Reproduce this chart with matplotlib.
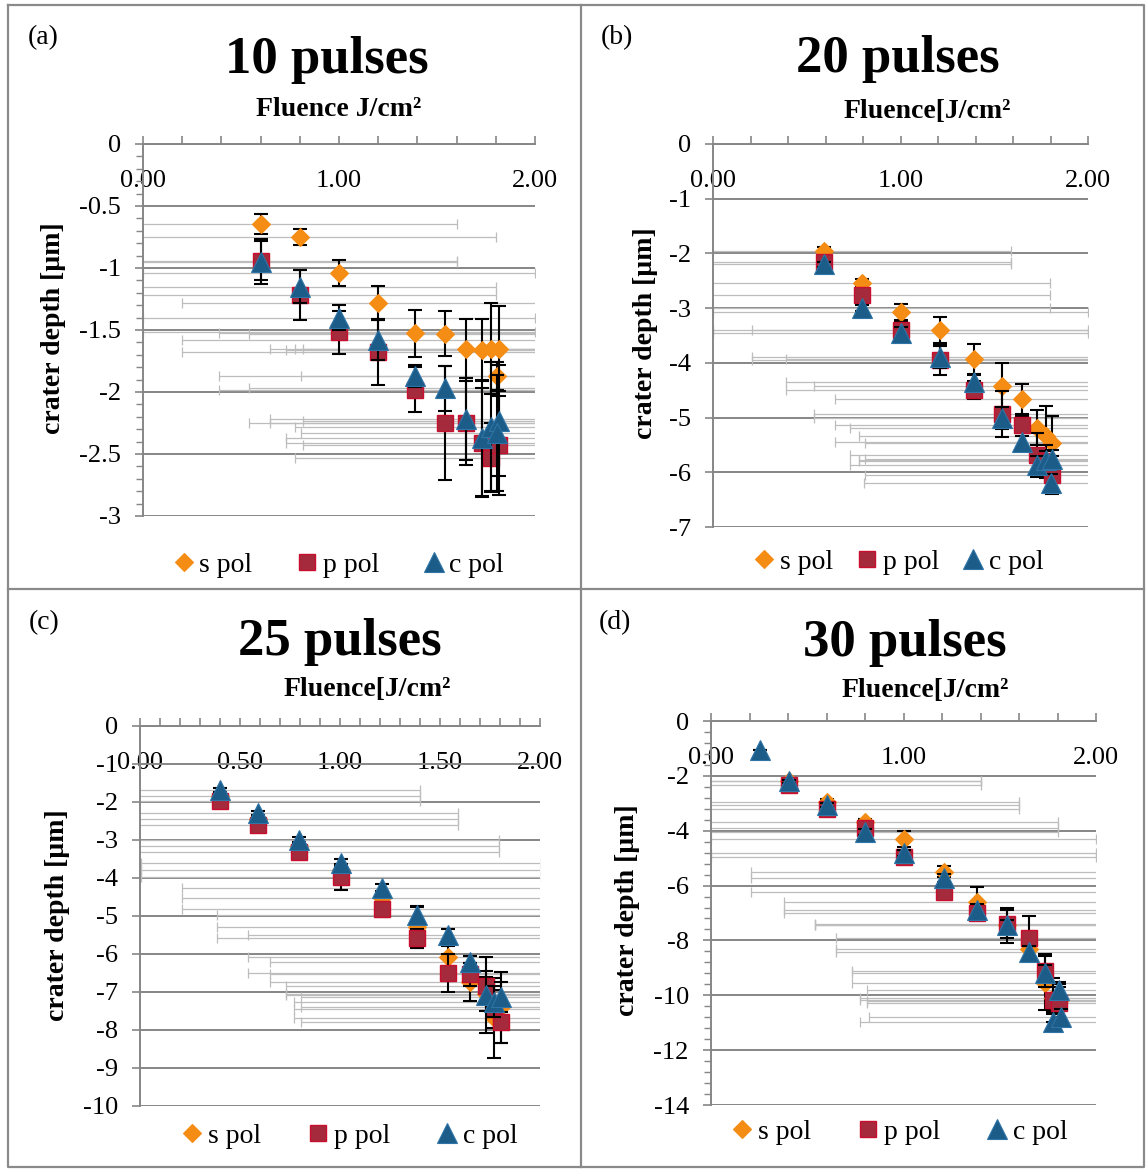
import matplotlib
matplotlib.use("Agg")
import matplotlib.pyplot as plt
from matplotlib.ticker import MultipleLocator, FormatStrFormatter, FuncFormatter
from matplotlib.lines import Line2D

W, H = 1146, 1169
plt.rcParams['font.family'] = ['Liberation Serif', 'DejaVu Serif']
plt.rcParams['axes.unicode_minus'] = False

# ---------------- data: (a) 10 pulses ----------------
flu_a = [0.60, 0.80, 1.00, 1.20, 1.39, 1.54, 1.65, 1.73, 1.775, 1.815, 1.805]
s_a = [-0.645, -0.75, -1.04, -1.28, -1.525, -1.53, -1.65, -1.66, -1.65, -1.65, -1.87]
s_a_err = [0.08, 0.065, 0.105, 0.135, 0.19, 0.18, 0.24, 0.25, 0.37, 0.34, 0.11]
p_a = [-0.94, -1.22, -1.52, -1.68, -1.98, -2.25, -2.25, -2.41, -2.53, -2.43]
p_a_err = [0.16, 0.20, 0.17, 0.26, 0.18, 0.46, 0.34, 0.44, 0.28, 0.40]
c_a = [-0.95, -1.15, -1.40, -1.58, -1.87, -1.97, -2.22, -2.37, -2.28, -2.23, -2.33]
c_a_err = [0.18, 0.13, 0.10, 0.16, 0.09, 0.18, 0.33, 0.47, 0.52, 0.45, 0.47]

# ---------------- data: (b) 20 pulses ----------------
flu_b = [0.59, 0.795, 1.00, 1.21, 1.39, 1.54, 1.65, 1.73, 1.776, 1.81, 1.805]
s_b = [-1.95, -2.54, -3.07, -3.40, -3.93, -4.43, -4.66, -5.19, -5.33, -5.46]
s_b_err = [0.06, 0.07, 0.15, 0.24, 0.28, 0.42, 0.27, 0.32, 0.55, 0.49]
p_b = [-2.15, -2.76, -3.40, -3.95, -4.50, -4.94, -5.13, -5.68, -5.80, -6.05]
p_b_err = [0.08, 0.10, 0.15, 0.27, 0.16, 0.42, 0.16, 0.40, 0.30, 0.35]
c_b = [-2.20, -3.00, -3.45, -3.90, -4.35, -5.00, -5.44, -5.86, -5.77, -5.75, -6.20]
c_b_err = [0.05, 0.05, 0.10, 0.20, 0.12, 0.20, 0.10, 0.15, 0.15, 0.15, 0.17]

# ---------------- data: (c) 25 pulses ----------------
flu_c = [0.40, 0.59, 0.795, 1.005, 1.21, 1.385, 1.54, 1.65, 1.73, 1.77, 1.805]
s_c = [-1.85, -2.45, -3.15, -3.80, -4.53, -5.28, -6.08, -6.73, -7.05, -7.68, -7.40]
s_c_err = [0.05, 0.08, 0.10, 0.15, 0.20, 0.55, 0.30, 0.50, 0.45, 1.05, 0.93]
p_c = [-1.97, -2.60, -3.32, -3.98, -4.82, -5.58, -6.50, -6.53, -6.84, -7.45, -7.80]
p_c_err = [0.05, 0.08, 0.10, 0.34, 0.20, 0.25, 0.50, 0.30, 0.40, 0.50, 0.55]
c_c = [-1.68, -2.29, -3.00, -3.60, -4.27, -4.97, -5.50, -6.20, -7.08, -7.25, -7.13]
c_c_err = [0.05, 0.05, 0.08, 0.10, 0.10, 0.20, 0.15, 0.15, 1.00, 0.40, 0.40]

# ---------------- data: (d) 30 pulses ----------------
flu_d = [0.405, 0.60, 0.80, 1.00, 1.21, 1.38, 1.54, 1.65, 1.735, 1.775, 1.81]
s_d = [-2.20, -2.95, -3.68, -4.30, -5.50, -6.60, -7.45, -8.30, -9.55, -10.10, -10.20]
s_d_err = [0.08, 0.10, 0.12, 0.30, 0.20, 0.55, 0.65, 0.30, 1.00, 0.50, 0.60]
p_d = [-2.35, -3.20, -3.90, -4.95, -6.23, -7.00, -7.40, -7.91, -9.10, -10.17, -10.28]
p_d_err = [0.08, 0.10, 0.12, 0.15, 0.15, 0.20, 0.50, 0.80, 0.60, 0.80, 0.60]
flu_d_c = [0.255, 0.405, 0.60, 0.80, 1.00, 1.21, 1.38, 1.54, 1.65, 1.735, 1.775, 1.81, 1.82]
c_d = [-1.06, -2.20, -3.06, -4.05, -4.81, -5.72, -6.89, -7.44, -8.42, -9.19, -10.98, -9.80, -10.80]
c_d_err = [0.0, 0.05, 0.08, 0.10, 0.10, 0.15, 0.20, 0.20, 0.20, 0.30, 0.30, 0.30, 0.30]
c_d_xerr = [0.0, 1, 1, 1, 1, 1, 1, 1, 1, 1, 1, 1, 1]

FLU_ERR = 1.0  # horizontal (fluence) uncertainty

GRID = '#868686'
HBAR = '#bdbdbd'
STYLE = {
    's pol': dict(marker='D', ms=9.5, mfc='#F58C14', mec='#F58C14', mew=0.8),
    'p pol': dict(marker='s', ms=11.5, mfc='#A52A3C', mec='#C8102E', mew=1.0),
    'c pol': dict(marker='^', ms=14, mfc='#1B5C88', mec='#2F74A6', mew=0.8),
}

fig = plt.figure(figsize=(W / 100, H / 100), dpi=100)


def fx(x):
    return x / W


def fy(y):
    return 1 - y / H


def ylab_fmt(v, pos):
    return '%g' % v if abs(v) > 1e-9 else '0'


def panel(box, ymin, ymajor, yminor, xmajor, xminor, series, title, title_xy,
          flu_text, flu_xy, tag, tag_xy, ylab_xy, leg_xy, colspace):
    x0, y0, x1, y1 = box
    ax = fig.add_axes([fx(x0), fy(y1), (x1 - x0) / W, (y1 - y0) / H])
    ax.set_xlim(0, 2)
    ax.set_ylim(ymin, 0)
    for sp in ('top', 'right'):
        ax.spines[sp].set_visible(False)
    ax.spines['bottom'].set_position(('data', 0))
    for sp in ('bottom', 'left'):
        ax.spines[sp].set_color(GRID)
        ax.spines[sp].set_linewidth(1.4)

    ax.xaxis.set_major_locator(MultipleLocator(xmajor))
    ax.xaxis.set_minor_locator(MultipleLocator(xminor))
    ax.xaxis.set_major_formatter(FormatStrFormatter('%.2f'))
    ax.yaxis.set_major_locator(MultipleLocator(ymajor))
    if yminor:
        ax.yaxis.set_minor_locator(MultipleLocator(yminor))
    ax.yaxis.set_major_formatter(FuncFormatter(ylab_fmt))

    ax.tick_params(axis='x', which='both', direction='in', length=6, width=1.2,
                   color=GRID, labelsize=19, pad=19)
    ax.tick_params(axis='y', which='major', direction='out', length=6, width=1.2,
                   color=GRID, labelsize=19, pad=10)
    ax.tick_params(axis='y', which='minor', direction='out', length=5, width=1.0,
                   color=GRID)
    ax.yaxis.grid(True, which='major', color=GRID, lw=1.4)
    ax.set_axisbelow(True)

    handles = []
    for name, flu, y, yerr, xerr in series:
        xe = xerr if xerr is not None else [FLU_ERR] * len(y)
        ax.errorbar(flu[:len(y)], y, xerr=xe, fmt='none', ecolor=HBAR,
                    elinewidth=0.9, capsize=3.5, capthick=0.9, zorder=1.5)
    for i, (name, flu, y, yerr, xerr) in enumerate(series):
        st = STYLE[name]
        ax.errorbar(flu[:len(y)], y, yerr=yerr, fmt='none', ecolor='black',
                    elinewidth=1.5, capsize=5, capthick=1.5, zorder=3 + 2 * i)
        h, = ax.plot(flu[:len(y)], y, ls='none', label=name, zorder=4 + 2 * i, **st)
        handles.append(h)

    fig.text(fx(title_xy[0]), fy(title_xy[1]), title, ha='center', va='baseline',
             fontsize=38, fontweight='bold')
    fig.text(fx(flu_xy[0]), fy(flu_xy[1]), flu_text, ha='center', va='baseline',
             fontsize=20, fontweight='bold')
    fig.text(fx(tag_xy[0]), fy(tag_xy[1]), tag, ha='left', va='center', fontsize=20)
    fig.text(fx(ylab_xy[0]), fy(ylab_xy[1]), 'crater depth [µm]', ha='center',
             va='center', rotation=90, fontsize=20, fontweight='bold')
    fig.legend(handles=handles, loc='center', bbox_to_anchor=(fx(leg_xy[0]), fy(leg_xy[1])),
               ncol=3, frameon=False, fontsize=20, handlelength=0.7, handletextpad=0.2,
               columnspacing=colspace, markerscale=1.0, borderpad=0)
    return ax


panel((143, 144, 535, 516), -3, 0.5, 0.1, 1.0, 0.2,
      [('s pol', flu_a, s_a, s_a_err, None),
       ('p pol', flu_a, p_a, p_a_err, None),
       ('c pol', flu_a, c_a, c_a_err, None)],
      '10 pulses', (327, 73), 'Fluence J/cm²', (339, 116), '(a)', (28, 38),
      (54, 328), (339, 565), 1.64)

panel((713, 144, 1088, 527), -7, 1, None, 1.0, 0.2,
      [('s pol', flu_b, s_b, s_b_err, None),
       ('p pol', flu_b, p_b, p_b_err, None),
       ('c pol', flu_b, c_b, c_b_err, None)],
      '20 pulses', (898, 72), 'Fluence[J/cm²', (927, 118), '(b)', (601, 38),
      (646, 333), (899, 562), 0.89)

panel((140, 726, 540, 1106), -10, 1, None, 0.5, 0.1,
      [('s pol', flu_c, s_c, s_c_err, None),
       ('p pol', flu_c, p_c, p_c_err, None),
       ('c pol', flu_c, c_c, c_c_err, None)],
      '25 pulses', (340, 655), 'Fluence[J/cm²', (367, 696), '(c)', (29, 623),
      (58, 915), (350, 1136), 1.72)

panel((711, 721, 1096, 1105), -14, 2, 0.4, 1.0, 0.2,
      [('s pol', flu_d, s_d, s_d_err, None),
       ('p pol', flu_d, p_d, p_d_err, None),
       ('c pol', flu_d_c, c_d, c_d_err, c_d_xerr)],
      '30 pulses', (905, 656), 'Fluence[J/cm²', (925, 697), '(d)', (599, 623),
      (628, 910), (900, 1132), 1.72)

# panel frames
frame = dict(color='#8a8a8a', lw=1.6, transform=fig.transFigure)
fig.add_artist(Line2D([fx(8), fx(1144), fx(1144), fx(8), fx(8)],
                      [fy(5), fy(5), fy(1167), fy(1167), fy(5)], **frame))
fig.add_artist(Line2D([fx(581), fx(581)], [fy(5), fy(1167)], **frame))
fig.add_artist(Line2D([fx(8), fx(1144)], [fy(589), fy(589)], **frame))

fig.savefig('out.png', dpi=100, facecolor='white')
